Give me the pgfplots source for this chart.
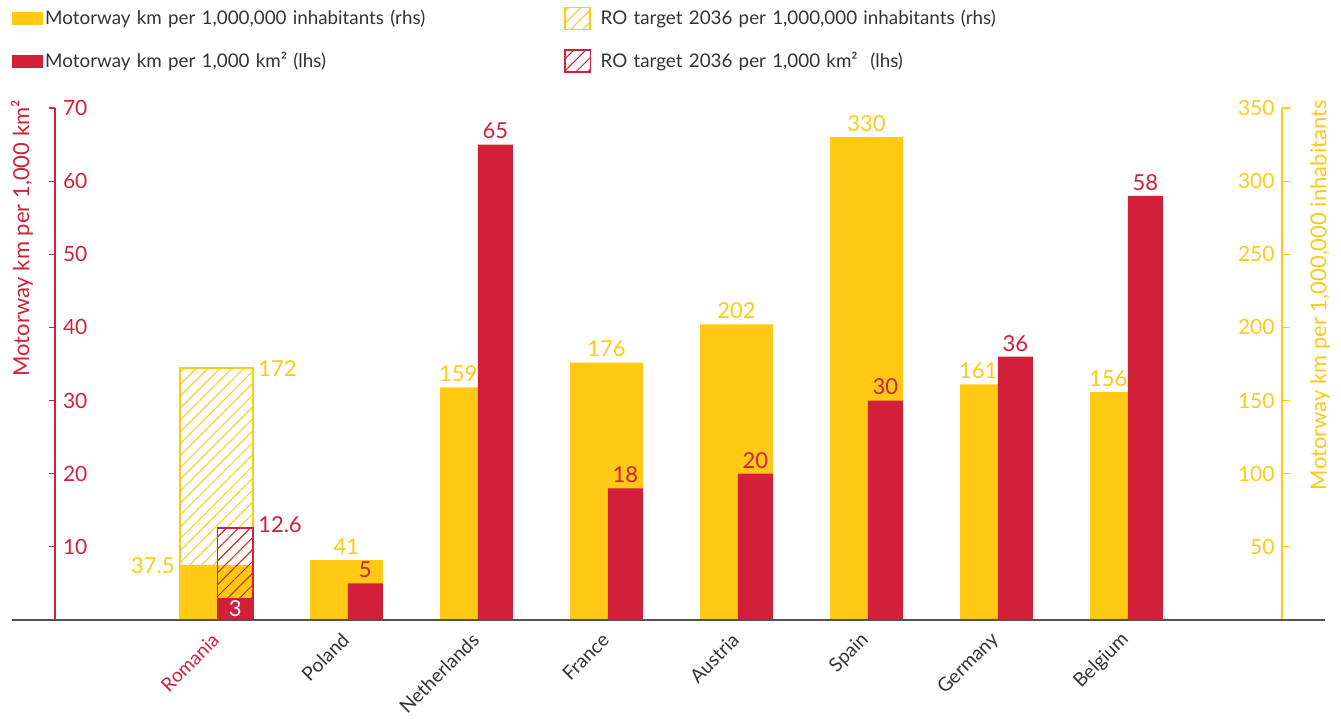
\documentclass[border=0pt]{standalone}
\usepackage{fontspec}
\setmainfont{Lato}
\usepackage{pgfplots}
\pgfplotsset{compat=1.18}
\usetikzlibrary{patterns.meta}
\definecolor{yel}{HTML}{FFC914}
\definecolor{rd}{HTML}{D2203B}
\definecolor{txt}{HTML}{333333}
\tikzset{
  yl/.style={text=yel, font=\fontsize{11}{12}\selectfont, inner sep=2.5pt},
  rl/.style={text=rd, font=\fontsize{11}{12}\selectfont, inner sep=2.5pt},
}
\begin{document}
\begin{tikzpicture}
\pgfplotsset{
  common/.style={
    scale only axis, width=613.5pt, height=256pt,
    xmin=-1.242, xmax=8.196, ymin=0,
    clip=false,
    /pgf/number format/assume math mode=true,
    tick align=outside,
  },
}
% ---------------- right axis (yellow, per 1,000,000 inhabitants)
\begin{axis}[common, ymax=350,
  axis y line*=right, axis x line=none,
  ytick={50,100,...,350},
  y axis line style={draw=yel, line width=0.6pt},
  ytick style={draw=yel, line width=0.6pt},
  major tick length=4pt,
  yticklabel style={anchor=east, xshift=-4.2pt, text=yel, font=\fontsize{10.5}{12}\selectfont},
  ylabel={Motorway km per 1,000,000 inhabitants},
  every axis y label/.style={at={(axis description cs:1.031,1.0156)}, rotate=90, anchor=east, inner sep=0pt, text=yel, font=\fontsize{11}{12}\selectfont},
]
\addplot[ybar, bar width=0.56, bar shift=0pt, draw=yel, line width=0.9pt,
  pattern={Lines[angle=45,distance=4.2pt,line width=0.5pt]}, pattern color=yel, forget plot]
  coordinates {(0,172)};
\addplot[ybar, bar width=0.56, bar shift=0pt, fill=yel, draw=none, forget plot]
  coordinates {(0,37.5) (1,41) (2,159) (3,176) (4,202) (5,330) (6,161) (7,156)};
\node[yl, anchor=east] at (axis cs:-0.28,37.5) {37.5};
\node[yl, anchor=west] at (axis cs:0.28,172) {172};
\node[yl, anchor=south] at (axis cs:1,41) {41};
\node[yl, anchor=south] at (axis cs:1.86,159) {159};
\node[yl, anchor=south] at (axis cs:3,176) {176};
\node[yl, anchor=south] at (axis cs:4,202) {202};
\node[yl, anchor=south] at (axis cs:5,330) {330};
\node[yl, anchor=south] at (axis cs:5.86,161) {161};
\node[yl, anchor=south] at (axis cs:6.86,156) {156};
\end{axis}
% ---------------- left axis (red, per 1,000 km2)
\begin{axis}[common, name=ax, ymax=70,
  axis y line*=left, axis x line*=bottom,
  x axis line style={draw=none},
  xtick={0,...,7},
  xticklabels={\textcolor{rd}{Romania},Poland,Netherlands,France,Austria,Spain,Germany,Belgium},
  xtick style={draw=none},
  xticklabel style={rotate=45, anchor=east, text=txt, inner sep=0.5pt, xshift=-3.5pt, yshift=-3.5pt, font=\fontsize{9.6}{10}\selectfont},
  ytick={10,20,...,70},
  y axis line style={draw=rd, line width=0.6pt},
  ytick style={draw=rd, line width=0.6pt},
  major tick length=3pt,
  yticklabel style={anchor=west, xshift=3.5pt, text=rd, font=\fontsize{10.5}{12}\selectfont},
  ylabel={Motorway km per 1,000 km²},
  every axis y label/.style={at={(axis description cs:-0.0269,1.0156)}, rotate=90, anchor=east, inner sep=0pt, text=rd, font=\fontsize{11}{12}\selectfont},
  legend columns=2, legend cell align=left,
  legend style={at={(axis description cs:-0.035,1.199)}, anchor=north west, draw=none, fill=none,
    inner sep=0pt, column sep=0pt, row sep=9.5pt, font=\fontsize{9.4}{10}\selectfont, text=txt,
    nodes={inner sep=0pt, text width=259.5pt}},
]
\addlegendimage{legend image code/.code={\fill[yel] (0pt,-3pt) rectangle (15pt,3pt); \path (16pt,0pt);}}
\addlegendentry{Motorway km per 1,000,000 inhabitants (rhs)}
\addlegendimage{legend image code/.code={\draw[yel, line width=0.9pt, pattern={Lines[angle=45,distance=4.2pt,line width=0.5pt]}, pattern color=yel] (0.45pt,-5.5pt) rectangle (13.05pt,5.5pt); \path (18pt,0pt);}}
\addlegendentry{RO target 2036 per 1,000,000 inhabitants (rhs)}
\addlegendimage{legend image code/.code={\fill[rd] (0pt,-3pt) rectangle (15pt,3pt); \path (16pt,0pt);}}
\addlegendentry{Motorway km per 1,000 km² (lhs)}
\addlegendimage{legend image code/.code={\draw[rd, line width=0.7pt, pattern={Lines[angle=45,distance=4.2pt,line width=0.5pt]}, pattern color=rd] (0.35pt,-5.5pt) rectangle (13.15pt,5.5pt); \path (18pt,0pt);}}
\addlegendentry{RO target 2036 per 1,000 km²\ \ (lhs)}
\addplot[ybar, bar width=0.27, bar shift=0.145, draw=rd, line width=0.7pt,
  pattern={Lines[angle=45,distance=4.2pt,line width=0.5pt]}, pattern color=rd, forget plot]
  coordinates {(0,12.6)};
\addplot[ybar, bar width=0.27, bar shift=0.145, fill=rd, draw=none, forget plot]
  coordinates {(0,3) (1,5) (2,65) (3,18) (4,20) (5,30) (6,36) (7,58)};
\node[rl, text=white] at (axis cs:0.145,1.5) {3};
\node[rl, anchor=west, yshift=1.5pt] at (axis cs:0.28,12.6) {12.6};
\node[rl, anchor=south] at (axis cs:1.145,5) {5};
\node[rl, anchor=south] at (axis cs:2.145,65) {65};
\node[rl, anchor=south] at (axis cs:3.145,18) {18};
\node[rl, anchor=south] at (axis cs:4.145,20) {20};
\node[rl, anchor=south] at (axis cs:5.145,30) {30};
\node[rl, anchor=south] at (axis cs:6.145,36) {36};
\node[rl, anchor=south] at (axis cs:7.145,58) {58};
\draw[txt!85, line width=0.7pt] (axis description cs:-0.035,0) -- (axis description cs:1.035,0);
\end{axis}
\pgfresetboundingbox
\path[use as bounding box] ([shift={(-27.5pt,-49.5pt)}]ax.south west) rectangle ([shift={(29.5pt,54pt)}]ax.north east);
\end{tikzpicture}
\end{document}
